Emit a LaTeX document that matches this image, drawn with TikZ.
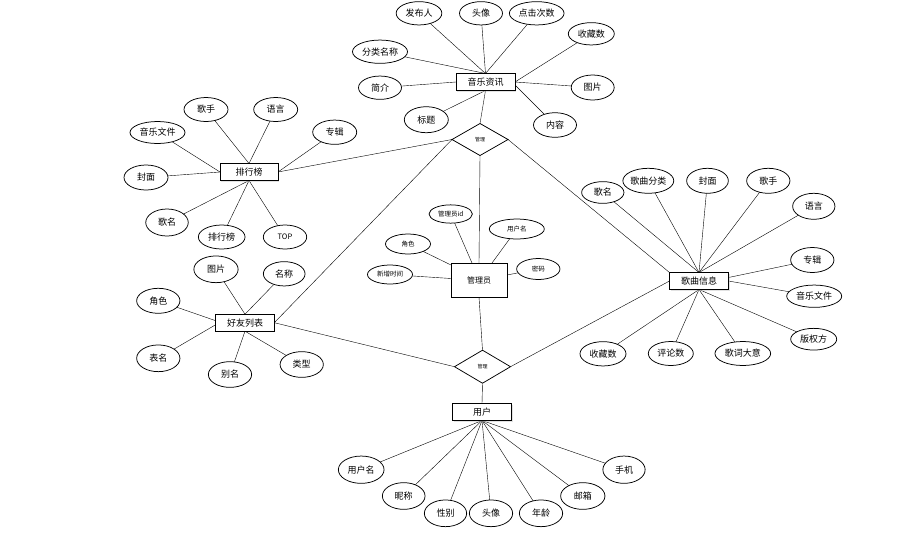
\documentclass[tikz,border=0pt]{standalone}
\usepackage{fontspec}
\setmainfont{Noto Sans CJK SC}
\usetikzlibrary{shapes.geometric,calc,shadows,backgrounds}
\begin{document}
\begin{tikzpicture}[x=1pt,y=-1pt,
  every node/.style={inner sep=0pt, outer sep=0pt},
  ent/.style={draw, line width=0.95pt, fill=white, minimum width=59pt, minimum height=17pt,
    font=\fontsize{9}{10}\selectfont, drop shadow={shadow xshift=1pt, shadow yshift=-1pt, fill=gray!45}},
  attr/.style={draw, ellipse, line width=0.75pt, fill=white, minimum width=44pt, minimum height=24pt,
    font=\fontsize{9}{10}\selectfont},
  sattr/.style={attr, font=\fontsize{6.5}{7}\selectfont},
  rel/.style={draw, diamond, line width=0.75pt, fill=white, minimum width=56pt, minimum height=32pt,
    font=\fontsize{5}{6}\selectfont},
  conn/.style={line width=0.75pt}]
\useasboundingbox (0,0) rectangle (911,539);

% entities and relations
\node[ent] (yyzx) at (485.5,82) {音乐资讯};
\node[ent, minimum width=58pt] (phb) at (249,172) {排行榜};
\node[ent, minimum width=56pt, minimum height=34pt, font=\fontsize{8}{9}\selectfont] (gly) at (479,280) {管理员};
\node[ent] (gqxx) at (699,281) {歌曲信息};
\node[ent, minimum width=58.6pt] (hylb) at (245,322.7) {好友列表};
\node[ent] (yh) at (482,412) {用户};
\node[rel] (gl1) at (480,139.5) {管理};
\node[rel, minimum height=33pt] (gl2) at (482.5,366.7) {管理};

% 音乐资讯 attributes
\node[attr, minimum width=45.7pt, minimum height=23.3pt] (a1) at (419,13.3) {发布人};
\node[attr, minimum width=43pt, minimum height=23.3pt] (a2) at (481,13.3) {头像};
\node[attr, minimum width=54.7pt, minimum height=23.3pt] (a3) at (536.7,13.3) {点击次数};
\node[attr, minimum width=46pt, minimum height=22.3pt] (a4) at (591.3,33.8) {收藏数};
\node[attr, minimum width=43pt, minimum height=25pt] (a5) at (592.7,87.5) {图片};
\node[attr, minimum width=43pt, minimum height=24.6pt] (a6) at (555,125) {内容};
\node[attr, minimum width=44pt, minimum height=26pt] (a7) at (426.3,119.7) {标题};
\node[attr, minimum width=43pt, minimum height=23.3pt] (a8) at (380,87.7) {简介};
\node[attr, minimum width=55pt, minimum height=23.3pt] (a9) at (380,51.7) {分类名称};

% 排行榜 attributes
\node[attr] (b1) at (206,109.5) {歌手};
\node[attr] (b2) at (275.7,109.5) {语言};
\node[attr, minimum height=24.3pt] (b3) at (334.7,132.2) {专辑};
\node[attr, minimum width=55pt, minimum height=22pt] (b4) at (157.5,132.5) {音乐文件};
\node[attr, minimum height=25pt] (b5) at (146,177.5) {封面};
\node[attr, minimum width=42.5pt, minimum height=27pt] (b6) at (167,222.5) {歌名};
\node[attr, minimum width=46.7pt] (b7) at (221.7,237) {排行榜};
\node[attr, minimum width=43.4pt, font=\fontsize{7.5}{8}\selectfont] (b8) at (285,237) {TOP};

% 管理员 attributes
\node[sattr, minimum width=43.3pt, minimum height=18.3pt] (c1) at (450.7,214) {管理员id};
\node[sattr, minimum width=55pt, minimum height=20pt] (c2) at (516.8,229) {用户名};
\node[sattr, minimum width=45pt, minimum height=20pt] (c3) at (408,244) {角色};
\node[sattr, minimum width=45pt, minimum height=19pt] (c4) at (390,274.5) {新增时间};
\node[sattr, minimum width=43.3pt, minimum height=21pt] (c5) at (538.3,269) {密码};

% 歌曲信息 attributes
\node[attr, minimum width=42.3pt, minimum height=21.7pt] (d1) at (602.8,192.5) {歌名};
\node[attr, minimum width=46.7pt, minimum height=25pt] (d2) at (648.3,180.8) {歌曲分类};
\node[attr, minimum width=41.7pt, minimum height=25pt] (d3) at (707.5,180.8) {封面};
\node[attr, minimum width=43.3pt, minimum height=25pt] (d4) at (768.3,180.8) {歌手};
\node[attr, minimum width=42.3pt, minimum height=26pt] (d5) at (813.8,206.3) {语言};
\node[attr, minimum width=43.3pt, minimum height=25pt] (d6) at (812.3,260) {专辑};
\node[attr, minimum width=55pt, minimum height=22.3pt] (d7) at (814.2,296.2) {音乐文件};
\node[attr, minimum width=46pt, minimum height=21.7pt] (d8) at (813.7,339.2) {版权方};
\node[attr, minimum width=46pt, minimum height=24.3pt] (d9) at (603,353.8) {收藏数};
\node[attr, minimum width=45pt, minimum height=24pt] (d10) at (670.8,353.5) {评论数};
\node[attr, minimum width=55.7pt, minimum height=24pt] (d11) at (742.8,353.5) {歌词大意};

% 好友列表 attributes
\node[attr, minimum width=44.3pt, minimum height=26.7pt] (e1) at (216,269.3) {图片};
\node[attr, minimum width=41.7pt, minimum height=24.3pt] (e2) at (284.2,273.8) {名称};
\node[attr, minimum width=43.3pt, minimum height=25pt] (e3) at (158.3,300.8) {角色};
\node[attr, minimum width=43.3pt, minimum height=26.7pt] (e4) at (158.3,358.3) {表名};
\node[attr, minimum width=43.3pt, minimum height=25.7pt] (e5) at (230,374.5) {别名};
\node[attr, minimum width=43.3pt, minimum height=25.7pt] (e6) at (301.7,364.5) {类型};

% 用户 attributes
\node[attr, minimum width=45.7pt, minimum height=27.3pt] (f1) at (361.2,469.7) {用户名};
\node[attr, minimum width=42.7pt, minimum height=26.7pt] (f2) at (403.7,496) {昵称};
\node[attr, minimum width=42.3pt, minimum height=26.7pt] (f3) at (445.5,513.3) {性别};
\node[attr, minimum width=43.3pt, minimum height=26.7pt] (f4) at (491,513.3) {头像};
\node[attr, minimum width=43.3pt, minimum height=26.7pt] (f5) at (541,513.3) {年龄};
\node[attr, minimum width=44.3pt, minimum height=26.7pt] (f6) at (582.8,496) {邮箱};
\node[attr, minimum width=42.3pt, minimum height=27.3pt] (f7) at (624,469.7) {手机};

% ---------- connectors (behind the nodes) ----------
\begin{scope}[on background layer, conn]
% relations
\draw (yyzx.south) -- (gl1.north);
\draw (gl1.west) -- (phb.east);
\draw (gl1.west) -- (hylb.east);
\draw (gl1.south) -- (gly.north);
\draw (gl1.east) -- (gqxx.north west);
\draw (gly.south) -- (gl2.north);
\draw (gl2.west) -- (hylb.east);
\draw (gl2.east) -- (gqxx.west);
\draw (gl2.south) -- (yh.north);
% 音乐资讯
\draw (a1) -- (yyzx.north);
\draw (a2) -- (yyzx.north);
\draw (a3) -- (yyzx.north);
\draw (a4) -- (yyzx.east);
\draw (a5) -- (yyzx.east);
\draw (a6) -- ($(yyzx.east)+(0,3)$);
\draw (a7) -- (yyzx.south);
\draw (a8) -- (yyzx.west);
\draw (a9) -- (yyzx.north);
% 排行榜
\draw (b1) -- (phb.north);
\draw (b2) -- (phb.north);
\draw (b3) -- (phb.east);
\draw (b4) -- (phb.west);
\draw (b5) -- (phb.west);
\draw (b6) -- (phb.south);
\draw (b7) -- (phb.south);
\draw (b8) -- (phb.south);
% 管理员
\draw (c1) -- ($(gly.north)+(-7,0)$);
\draw (c2) -- ($(gly.north)+(13,0)$);
\draw (c3) -- ($(gly.north west)+(0,2)$);
\draw (c4) -- ($(gly.west)+(0,-1.5)$);
\draw (c5) -- ($(gly.east)+(0,-5)$);
% 歌曲信息
\draw (d1) -- (gqxx.north);
\draw (d2) -- (gqxx.north);
\draw (d3) -- (gqxx.north);
\draw (d4) -- (gqxx.north);
\draw (d5) -- (gqxx.north);
\draw (d6) -- ($(gqxx.east)+(0,-3.5)$);
\draw (d7) -- (gqxx.east);
\draw (d8) -- (gqxx.south);
\draw (d9) -- (gqxx.south);
\draw (d10) -- (gqxx.south);
\draw (d11) -- (gqxx.south);
% 好友列表
\draw (e1) -- (hylb.north);
\draw (e2) -- (hylb.north);
\draw (e3) -- ($(hylb.west)+(0,-2)$);
\draw (e4) -- ($(hylb.west)+(0,2)$);
\draw (e5) -- (hylb.south);
\draw (e6) -- (hylb.south);
% 用户
\draw (f1) -- (yh.south);
\draw (f2) -- (yh.south);
\draw (f3) -- (yh.south);
\draw (f4) -- (yh.south);
\draw (f5) -- (yh.south);
\draw (f6) -- (yh.south);
\draw (f7) -- (yh.south);
\end{scope}
\end{tikzpicture}
\end{document}
